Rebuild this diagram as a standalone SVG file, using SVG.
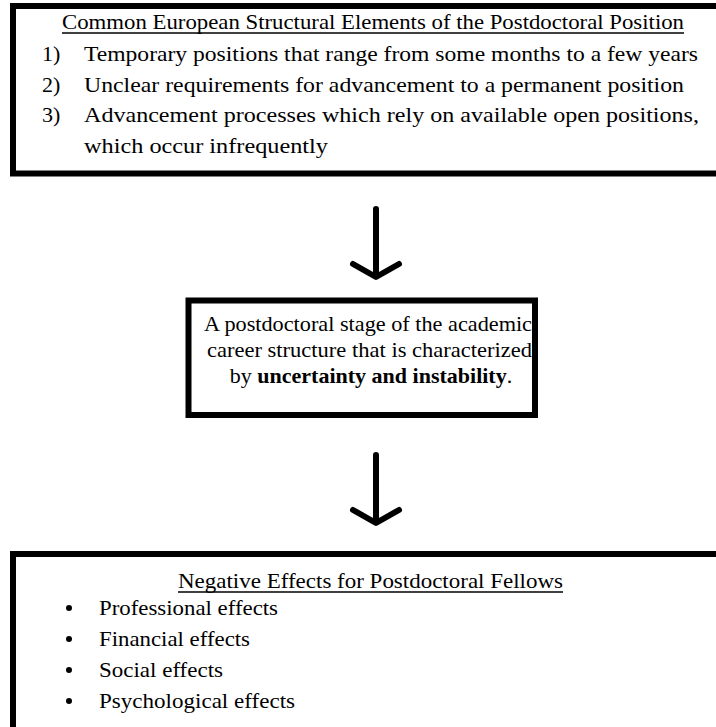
<svg xmlns="http://www.w3.org/2000/svg" width="716" height="727" viewBox="0 0 716 727">
<style>
.box{fill:#fff;stroke:#000;stroke-width:6}
.t{font-size:22px;fill:#000}
.c{text-anchor:middle}
.b{font-weight:bold}
.arr{fill:none;stroke:#000;stroke-width:6;stroke-linecap:round;stroke-linejoin:round}
</style>
<rect width="716" height="727" fill="#fff"/>
<g font-family="'Liberation Serif', 'Times New Roman', Times, serif">
<g id="node-structural">
<rect class="box" x="13" y="6" width="720" height="167.5"/>
<text class="t" x="62" y="29" font-size="23" textLength="622" lengthAdjust="spacingAndGlyphs">Common European Structural Elements of the Postdoctoral Position</text>
<line x1="62" y1="33" x2="684" y2="33" stroke="#000" stroke-width="1.3"/>
<text class="t" x="42" y="61" font-size="23">1)</text>
<text class="t" x="84" y="61" font-size="23" textLength="614" lengthAdjust="spacingAndGlyphs">Temporary positions that range from some months to a few years</text>
<text class="t" x="42" y="92" font-size="23">2)</text>
<text class="t" x="84" y="92" font-size="23" textLength="600" lengthAdjust="spacingAndGlyphs">Unclear requirements for advancement to a permanent position</text>
<text class="t" x="42" y="122" font-size="23">3)</text>
<text class="t" x="84" y="122" font-size="23" textLength="615" lengthAdjust="spacingAndGlyphs">Advancement processes which rely on available open positions,</text>
<text class="t" x="84" y="153" font-size="23" textLength="244" lengthAdjust="spacingAndGlyphs">which occur infrequently</text>
</g>
<g id="node-stage">
<rect class="box" x="188.5" y="300.5" width="346.5" height="114.5"/>
<text class="t c" x="368" y="331" textLength="328" lengthAdjust="spacingAndGlyphs">A postdoctoral stage of the academic</text>
<text class="t c" x="369.5" y="357" textLength="325" lengthAdjust="spacingAndGlyphs">career structure that is characterized</text>
<text class="t c" x="371" y="383">by <tspan class="b">uncertainty and instability</tspan>.</text>
</g>
<g id="node-effects">
<rect class="box" x="13" y="554" width="720" height="200"/>
<text class="t" x="178" y="588" font-size="23" textLength="385" lengthAdjust="spacingAndGlyphs">Negative Effects for Postdoctoral Fellows</text>
<line x1="178" y1="592" x2="563" y2="592" stroke="#000" stroke-width="1.3"/>
<circle cx="69" cy="608" r="3"/>
<text class="t" x="99" y="615" font-size="23" textLength="179" lengthAdjust="spacingAndGlyphs">Professional effects</text>
<circle cx="69" cy="639" r="3"/>
<text class="t" x="99" y="646" font-size="23" textLength="151" lengthAdjust="spacingAndGlyphs">Financial effects</text>
<circle cx="69" cy="670" r="3"/>
<text class="t" x="99" y="677" font-size="23" textLength="124" lengthAdjust="spacingAndGlyphs">Social effects</text>
<circle cx="69" cy="701" r="3"/>
<text class="t" x="99" y="708" font-size="23" textLength="196" lengthAdjust="spacingAndGlyphs">Psychological effects</text>
</g>
</g>
<g id="connectors">
<path class="arr" d="M376,209 V276 M353,264 L376,277 L399,264"/>
<path class="arr" d="M376,455 V522 M353,510 L376,523 L399,510"/>
</g>
</svg>
